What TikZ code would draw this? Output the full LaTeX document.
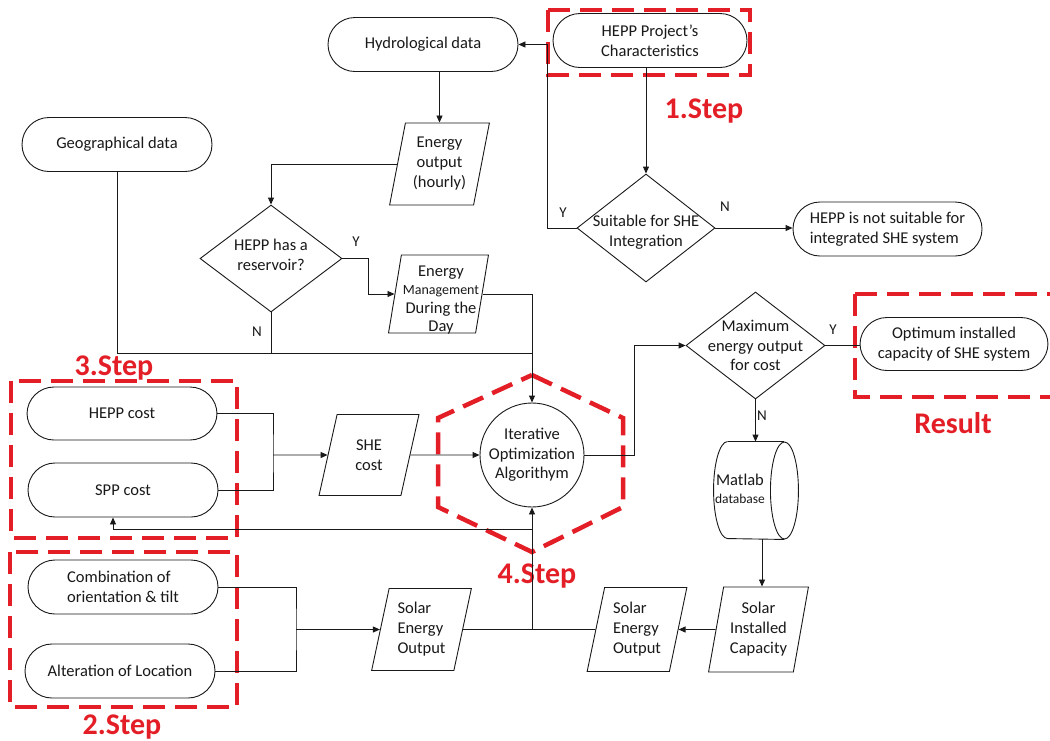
\documentclass[tikz,border=0pt]{standalone}
\usepackage{fontspec}
\setmainfont{Carlito}
\usetikzlibrary{shapes.geometric,arrows.meta,calc}
\definecolor{stepred}{RGB}{228,30,38}
\definecolor{ink}{RGB}{25,25,25}
\begin{document}
\begin{tikzpicture}[x=1pt,y=-1pt,
  font=\fontsize{16.5}{20}\selectfont, color=ink,
  every path/.style={line width=0.9pt},
  stad/.style={rectangle, rounded corners=27pt, draw=ink, minimum width=190pt, minimum height=54pt, inner sep=0pt, align=center},
  para/.style={trapezium, trapezium left angle=77, trapezium right angle=103, trapezium stretches, draw=ink, minimum width=100pt, minimum height=82pt, inner sep=-6pt, align=center},
  dia/.style={diamond, draw=ink, minimum width=140pt, minimum height=107pt, inner sep=-22pt, align=center},
  txt/.style={align=center, inner sep=0pt},
  arr/.style={-{Triangle[length=7pt,width=6pt]}},
  lbl/.style={font=\fontsize{15}{18}\selectfont, inner sep=0pt},
  redd/.style={draw=stepred, line width=4.5pt, dash pattern=on 22pt off 10pt},
  steplbl/.style={text=stepred, font=\fontsize{30}{36}\selectfont\bfseries, inner sep=0pt, anchor=base}]
\useasboundingbox[fill=white] (0,0) rectangle (1050,740);

% red dashed frames
\draw[redd] (548,10) rectangle (750,75);
\draw[redd] (11,381) rectangle (237,538);
\draw[redd] (10,552) rectangle (237,707);
\draw[redd] (855,294) -- (1060,294) (855,294) -- (855,397) -- (1060,397);
\draw[redd] (532,375) -- (623,418) -- (623,507) -- (532,552) -- (438,507) -- (438,418) -- cycle;

% nodes
\node[stad] (hydro) at (423,44.5) {Hydrological data};
\node[stad, minimum width=194pt] (hproj) at (650,40.5) {HEPP Project's\\Characteristics};
\node[stad] (geo) at (117,144.5) {Geographical data};
\node[para] (enout) at (439.5,164) {Energy\\output\\(hourly)};
\node[dia, minimum width=142pt, inner sep=0pt] (res) at (271,258.5) {\phantom{M}};
\node[txt] (resT) at (271,255) {HEPP has a\\reservoir?};
\node[para, minimum height=78pt, inner sep=0pt] (emgmt) at (438.5,294) {\phantom{M}};
\node[txt, font=\fontsize{16.5}{18.5}\selectfont] (emgmtT) at (441,300) {Energy\\{\fontsize{14}{18.5}\selectfont Management}\\During the\\Day};
\node[dia, minimum width=138pt, minimum height=108pt, inner sep=0pt] (suit) at (646,228) {\phantom{M}};
\node[txt] (suitT) at (646,232) {Suitable for SHE\\Integration};
\node[stad, minimum width=189pt, align=left] (notsuit) at (887.5,229) {HEPP is not suitable for\\integrated SHE system};
\node[stad, minimum height=53pt] (hepp) at (122,413.5) {HEPP cost};
\node[stad] (spp) at (123,490) {SPP cost};
\node[para, minimum height=81pt] (shec) at (369,455) {SHE\\cost};
\node[circle, draw=ink, minimum size=104pt, inner sep=-12pt, align=center, font=\fontsize{16.5}{19.5}\selectfont] (algo) at (532,455) {Iterative\\Optimization\\Algorithym};
\node[dia, minimum width=139pt, font=\fontsize{16.5}{19.5}\selectfont] (maxd) at (755.5,345.5) {Maximum\\energy output\\for cost};
\node[stad, minimum width=188pt, minimum height=53pt] (opt) at (954,344) {Optimum installed\\capacity of SHE system};
% Matlab storage (cylinder lying on its side)
\node[rectangle, minimum width=84pt, minimum height=97pt, inner sep=0pt] (matlab) at (756,490.5) {};
\draw ($(matlab.north west)+(14,0)$) arc[start angle=90, end angle=270, x radius=14pt, y radius=48.5pt]
      -- ($(matlab.south east)+(-14,0)$);
\draw ($(matlab.north west)+(14,0)$) -- ($(matlab.north east)+(-14,0)$);
\draw ($(matlab.east)+(-14,0)$) ellipse [x radius=14pt, y radius=48.5pt];
\node[txt, font=\fontsize{16.5}{18}\selectfont] (mattxt) at (740,489) {Matlab\\{\fontsize{13.5}{16}\selectfont database}};
\node[para, minimum height=85pt] (sic) at (758.5,629.5) {Solar\\Installed\\Capacity};
\node[para, minimum height=84pt, align=left] (seo2) at (637,629.5) {Solar\\Energy\\Output};
\node[para, align=left] (seo1) at (421.5,629.5) {Solar\\Energy\\Output};
\node[stad, align=left] (comb) at (123,587) {Combination of\\orientation \& tilt};
\node[stad] (alt) at (120,671) {Alteration of Location};

% labels
\node[lbl] (ly1) at (563,213) {Y};
\node[lbl] (ln1) at (725,207) {N};
\node[lbl] (ly2) at (356,242) {Y};
\node[lbl] (ln2) at (257,332) {N};
\node[lbl] (ly3) at (833,330) {Y};
\node[lbl] (ln3) at (762,416) {N};

\node[steplbl] (s1) at (704,118) {1.Step};
\node[steplbl] (s3) at (114,375) {3.Step};
\node[steplbl] (s2) at (122,734) {2.Step};
\node[steplbl] (s4) at (537,583) {4.Step};
\node[steplbl] (sr) at (953,433) {Result};

% junction coordinates
\coordinate (jy) at (547,44.5);
\coordinate (jr) at (368,258.5);
\coordinate (jg) at (532,353);
\coordinate (jc) at (273,455);
\coordinate (ja) at (634,455);
\coordinate (jo) at (532,629.5);
\coordinate (jf) at (532,529);
\coordinate (js) at (296,629.5);

% connectors
\draw[arr] (suit.west) -| (jy) -- (hydro.east);
\draw[arr] (suit.north |- hproj.south) -- (suit.north);
\draw[arr] (suit.east) -- (notsuit.west |- suit.east);
\draw[arr] (hydro.south -| enout.north) -- (enout.north);
\draw[arr] (enout.west) -| (res.north);
\draw[arr] (res.east) -- (jr) |- (emgmt.west);
\draw[arr] (emgmt.east) -| (algo.north);
\draw (geo.south) |- (jg);
\draw (res.south) -- (res.south |- jg);
\draw (hepp.east) -| (jc) |- (spp.east);
\draw[arr] (jc) -- (shec.west);
\draw[arr] (shec.east) -- (algo.west);
\draw[arr] (algo.east) -- (ja) |- (maxd.west);
\draw (maxd.east) -- (opt.west |- maxd.east);
\draw[arr] (maxd.south) -- (maxd.south |- matlab.north);
\draw[arr] ([xshift=6]matlab.south) -- ([xshift=6]matlab.south |- sic.north);
\draw[arr] (sic.west) -- (seo2.east);
\draw (seo1.east) -- (seo2.west);
\draw[arr] (jo) -- (algo.south);
\draw[arr] (jf) -| ([xshift=-10]spp.south);
\draw (comb.east) -| (js) |- (alt.east);
\draw[arr] (js) -- (seo1.west);
\end{tikzpicture}
\end{document}
